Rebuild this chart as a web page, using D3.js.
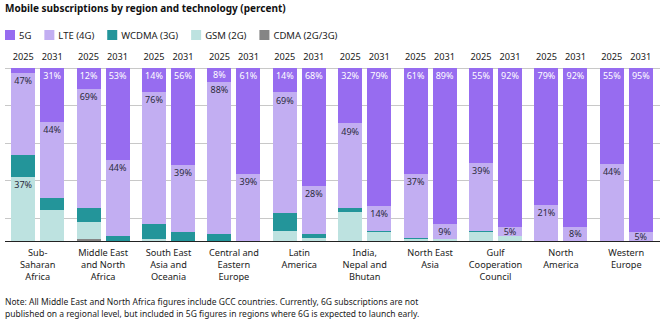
<!DOCTYPE html>
<html><head><meta charset="utf-8">
<script src="https://cdn.jsdelivr.net/npm/d3@7"></script>
<style>
body{margin:0;background:#fff;}
svg text{font-family:"Noto Sans",sans-serif;}
</style></head>
<body><svg id="c" width="665" height="322"></svg>
<script>
const title = "Mobile subscriptions by region and technology (percent)";
const regions = ["Sub-Saharan Africa","Middle East and North Africa","South East Asia and Oceania","Central and Eastern Europe","Latin America","India, Nepal and Bhutan","North East Asia","Gulf Cooperation Council","North America","Western Europe"];
const regionLines = [["Sub-","Saharan","Africa"],["Middle East","and North","Africa"],["South East","Asia and","Oceania"],["Central and","Eastern","Europe"],["Latin","America"],["India,","Nepal and","Bhutan"],["North East","Asia"],["Gulf","Cooperation","Council"],["North","America"],["Western","Europe"]];
const years = ["2025","2031"];
const techs = ["5G","LTE (4G)","WCDMA (3G)","GSM (2G)","CDMA (2G/3G)"];
// values per bar (region x year), in order of regions, each [2025, 2031]
const v5G   = [[3,31],[12,53],[14,56],[8,61],[14,68],[32,79],[61,89],[55,92],[79,92],[55,95]];
const vLTE  = [[47,44],[69,44],[76,39],[88,39],[69,28],[49,14],[37,9],[39,5],[21,8],[44,5]];
const vWCDMA= [[13,7],[8,3],[9,5],[4,0],[10,2],[2,1],[1,0],[1,0],[0,0],[0,0]];
const vGSM  = [[37,18],[10,0],[1,0],[0,0],[6,2],[17,5],[1,1],[5,3],[0,0],[0,0]];
const vCDMA = [[0,0],[1,0],[0,0],[0,0],[0,0],[0,0],[0,0],[0,0],[0,0],[0,0]];
const gridValues = [100, 78.4, 56.8, 35.2, 13.5];
const note1 = "Note: All Middle East and North Africa figures include GCC countries. Currently, 6G subscriptions are not";
const note2 = "published on a regional level, but included in 5G figures in regions where 6G is expected to launch early.";

const colors = {"5G":"#976cf0","LTE (4G)":"#c2aef2","WCDMA (3G)":"#23959a","GSM (2G)":"#bde2e0","CDMA (2G/3G)":"#858585"};
const seriesVals = {"5G":v5G,"LTE (4G)":vLTE,"WCDMA (3G)":vWCDMA,"GSM (2G)":vGSM,"CDMA (2G/3G)":vCDMA};
const stackOrder = ["CDMA (2G/3G)","GSM (2G)","WCDMA (3G)","LTE (4G)","5G"];

const rows = [];
regions.forEach((r,i)=>years.forEach((y,j)=>{
  const o={region:r,year:y};
  techs.forEach(t=>o[t]=seriesVals[t][i][j]);
  rows.push(o);
}));

const svg = d3.select("#c");
const x0 = d3.scaleBand().domain(regions).range([5,659]);
const x1 = d3.scaleBand().domain(years).range([0,x0.bandwidth()]).paddingInner(0.172).paddingOuter(0.214);
const y = d3.scaleLinear().domain([0,1]).range([241,68]);
const yp = d3.scaleLinear().domain([0,100]).range([241,68]);

svg.append("text").attr("x",5).attr("y",12).attr("font-size",10).attr("font-weight","bold").attr("fill","#111").text(title);

// legend
let lx = 5;
const leg = svg.append("g");
techs.forEach(t=>{
  leg.append("rect").attr("x",lx).attr("y",30).attr("width",10).attr("height",10).attr("fill",colors[t]);
  const tx = leg.append("text").attr("x",lx+14).attr("y",38.5).attr("font-size",9.5).attr("fill","#222").text(t);
  lx += 14 + tx.node().getComputedTextLength() + 13;
});

// gridlines
svg.append("g").selectAll("line").data(gridValues).join("line")
  .attr("x1",5).attr("x2",660).attr("y1",d=>Math.round(yp(d))+0.5).attr("y2",d=>Math.round(yp(d))+0.5)
  .attr("stroke","#c8c8c8").attr("stroke-width",1);

// stacks
const stack = d3.stack().keys(stackOrder).offset(d3.stackOffsetExpand);
const series = stack(rows);
const gBars = svg.append("g").attr("shape-rendering","crispEdges");
series.forEach(s=>{
  gBars.append("g").attr("fill",colors[s.key]).selectAll("rect").data(s).join("rect")
    .attr("x",d=>x0(d.data.region)+x1(d.data.year))
    .attr("width",x1.bandwidth())
    .attr("y",d=>y(d[1]))
    .attr("height",d=>Math.max(0,y(d[0])-y(d[1])));
});

// labels
const gLab = svg.append("g").attr("font-size",9).attr("text-anchor","middle");
series.forEach(s=>{
  s.forEach(d=>{
    const val = d.data[s.key];
    const show = ((s.key==="5G"||s.key==="LTE (4G)") && val>=5) || val>=30;
    if(!show) return;
    const top = y(d[1]), bot = y(d[0]);
    const cy = Math.min(top+8,(top+bot)/2);
    gLab.append("text").attr("x",x0(d.data.region)+x1(d.data.year)+x1.bandwidth()/2)
      .attr("y",cy+3.2).attr("fill",s.key==="5G"?"#ffffff":"#2b2b3b").text(val+"%");
  });
});

// axis baseline
svg.append("line").attr("x1",5).attr("x2",660).attr("y1",241.5).attr("y2",241.5).attr("stroke","#222").attr("stroke-width",1);

// year labels
const gY = svg.append("g").attr("font-size",9.2).attr("text-anchor","middle").attr("fill","#222");
rows.forEach(d=>{
  gY.append("text").attr("x",x0(d.region)+x1(d.year)+x1.bandwidth()/2).attr("y",60).text(d.year);
});

// region labels
const gR = svg.append("g").attr("font-size",9.2).attr("text-anchor","middle").attr("fill","#222");
regions.forEach((r,i)=>{
  regionLines[i].forEach((ln,k)=>{
    gR.append("text").attr("x",x0(r)+x0.bandwidth()/2).attr("y",256+k*12).text(ln);
  });
});

svg.append("text").attr("x",5).attr("y",305).attr("font-size",8.5).attr("fill","#222").text(note1);
svg.append("text").attr("x",5).attr("y",317).attr("font-size",8.5).attr("fill","#222").text(note2);
</script></body></html>
